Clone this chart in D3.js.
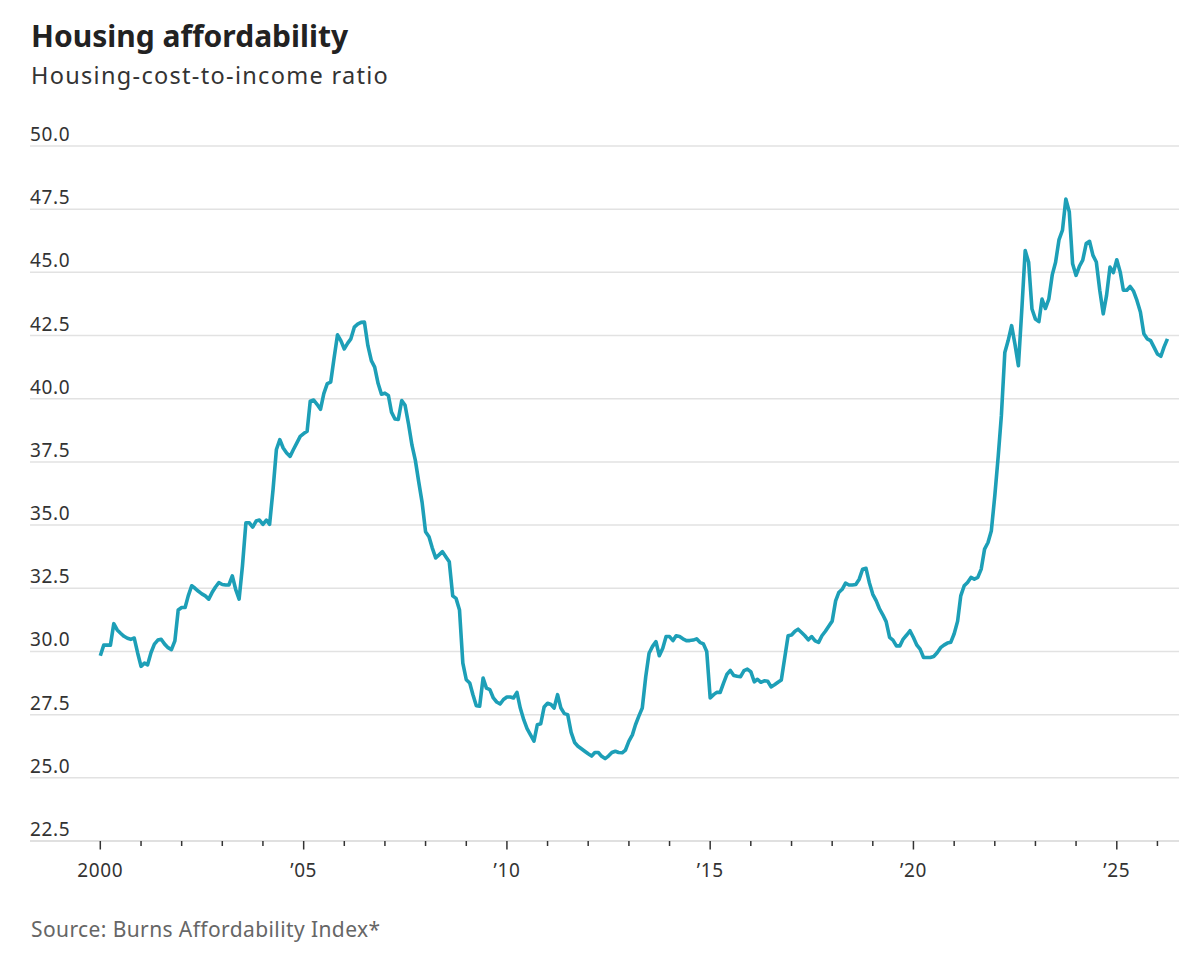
<!DOCTYPE html>
<html lang="en">
  <head>
    <meta charset="UTF-8" />
    <script src="https://d3js.org/d3.v7.min.js"></script>
    <style>
      body { margin: 0; background: #fff; }
      text { font-family: "Noto Sans", Lato, sans-serif; }
    </style>
    <title>Housing affordability</title>
  </head>
  <body>
    <svg id="chart" width="1200" height="961"></svg>
    <script>
      // monthly housing-cost-to-income ratio, starting Jan 2000
      const startYear = 2000;
      const ratio2000s = [
        29.83, 30.25, 30.25, 30.25, 31.1, 30.85, 30.72, 30.6, 30.52, 30.48, 30.53, 29.95,
        29.41, 29.54, 29.47, 29.96, 30.29, 30.45, 30.48, 30.29, 30.15, 30.07, 30.42, 31.64,
        31.74, 31.74, 32.2, 32.6, 32.5, 32.38, 32.28, 32.2, 32.07, 32.33, 32.55, 32.72,
        32.65, 32.63, 32.63, 32.99, 32.46, 32.07, 33.38, 35.09, 35.09, 34.92, 35.16, 35.2,
        35.03, 35.2, 35.03, 36.41, 37.99, 38.38, 38.05, 37.85, 37.72, 37.99, 38.25, 38.51,
        38.62, 38.71, 39.9, 39.95, 39.78, 39.58, 40.2, 40.6, 40.66, 41.6, 42.53, 42.3,
        41.97, 42.2, 42.37, 42.83, 42.95, 43.02, 43.03, 42.1, 41.51, 41.25, 40.6, 40.18,
        40.22, 40.13, 39.47, 39.2, 39.18, 39.93, 39.74, 39.0, 38.16, 37.57, 36.7, 35.9,
        34.74, 34.54, 34.1, 33.7, 33.82, 33.95, 33.75, 33.55, 32.2, 32.1, 31.64, 29.54,
        28.88, 28.75, 28.3, 27.85, 27.83, 28.95, 28.55, 28.49, 28.16, 28.0, 27.92, 28.1
      ];
      const ratio2010s = [
        28.2, 28.2, 28.16, 28.38, 27.76, 27.3, 26.95, 26.7, 26.45, 27.1, 27.14, 27.8,
        27.95, 27.9, 27.76, 28.29, 27.76, 27.54, 27.5, 26.8, 26.4, 26.25, 26.15, 26.05,
        25.95, 25.86, 26.0, 26.0, 25.85, 25.76, 25.86, 26.0, 26.05, 26.0, 25.99, 26.1,
        26.45, 26.7, 27.1, 27.45, 27.76, 29.0, 29.93, 30.2, 30.39, 29.83, 30.13, 30.59,
        30.59, 30.43, 30.62, 30.59, 30.5, 30.43, 30.43, 30.45, 30.5, 30.36, 30.3, 30.0,
        28.16, 28.29, 28.38, 28.38, 28.75, 29.1, 29.25, 29.05, 29.02, 29.0, 29.24, 29.3,
        29.2, 28.8, 28.9, 28.78, 28.84, 28.82, 28.6, 28.68, 28.78, 28.87, 29.76, 30.62,
        30.65, 30.8, 30.88, 30.75, 30.62, 30.46, 30.59, 30.42, 30.36, 30.62, 30.8, 31.0,
        31.2, 32.0, 32.33, 32.46, 32.7, 32.63, 32.63, 32.65, 32.86, 33.25, 33.29, 32.72,
        32.26, 32.0, 31.7, 31.45, 31.18, 30.56, 30.45, 30.22, 30.22, 30.49, 30.65, 30.82
      ];
      const ratio2020s = [
        30.55, 30.25, 30.09, 29.76, 29.76, 29.76, 29.8, 29.95, 30.15, 30.25, 30.33, 30.36,
        30.7, 31.2, 32.2, 32.6, 32.73, 32.93, 32.86, 32.93, 33.26, 34.05, 34.31, 34.78,
        36.16, 37.74, 39.33, 41.83, 42.3, 42.89, 42.16, 41.31, 43.55, 45.86, 45.4, 43.55,
        43.15, 43.05, 43.94, 43.57, 43.94, 44.9, 45.4, 46.3, 46.67, 47.9, 47.4, 45.34,
        44.88, 45.25, 45.48, 46.14, 46.23, 45.67, 45.41, 44.29, 43.36, 44.09, 45.21, 44.99,
        45.5, 45.01, 44.29, 44.29, 44.44, 44.25, 43.89, 43.43, 42.57, 42.37, 42.3, 42.04,
        41.77, 41.68, 42.04, 42.37
      ];
      const yTicks = [22.5, 25.0, 27.5, 30.0, 32.5, 35.0, 37.5, 40.0, 42.5, 45.0, 47.5, 50.0];
      const xTickYears = d3.range(2000, 2027);
      const xLabelYears = [2000, 2005, 2010, 2015, 2020, 2025];
      const xLabels = ["2000", "\u201905", "\u201910", "\u201915", "\u201920", "\u201925"];

      const ratios = ratio2000s.concat(ratio2010s, ratio2020s);
      const data = ratios.map((v, i) => ({
        date: new Date(startYear, i, 1),
        value: v,
      }));

      // set up graph
      const svg = d3.select("#chart");
      const left = 30;
      const right = 1179;

      const x = d3
        .scaleTime()
        .domain([new Date(2000, 0, 1), new Date(2025, 0, 1)])
        .range([100.3, 1116.8]);
      const y = d3.scaleLinear().domain([22.5, 50]).range([841, 146]);

      // titles
      svg
        .append("text")
        .attr("x", 31)
        .attr("y", 47)
        .attr("fill", "#222")
        .style("font-size", "30px")
        .style("font-weight", 700)
        .text("Housing affordability");

      svg
        .append("text")
        .attr("x", 31)
        .attr("y", 84)
        .attr("fill", "#333")
        .style("font-size", "23.5px")
        .style("letter-spacing", "1.3px")
        .text("Housing-cost-to-income ratio");

      // gridlines + y labels
      const grid = svg.append("g").attr("id", "grid");
      grid
        .selectAll("line")
        .data(yTicks)
        .join("line")
        .attr("x1", left)
        .attr("x2", right)
        .attr("y1", (d) => y(d))
        .attr("y2", (d) => y(d))
        .attr("stroke", (d) => (d === 22.5 ? "#d6d6d6" : "#e2e2e2"))
        .attr("stroke-width", 1.5);

      grid
        .selectAll("text")
        .data(yTicks)
        .join("text")
        .attr("x", left)
        .attr("y", (d) => y(d) - 5)
        .attr("fill", "#333")
        .style("font-size", "19px")
        .style("letter-spacing", "0.6px")
        .text((d) => d.toFixed(1));

      // x ticks
      const xAxis = svg.append("g").attr("id", "xaxis");
      xAxis
        .selectAll("line")
        .data(xTickYears)
        .join("line")
        .attr("x1", (d) => x(new Date(d, 0, 1)))
        .attr("x2", (d) => x(new Date(d, 0, 1)))
        .attr("y1", y(22.5))
        .attr("y2", (d) => y(22.5) + (d % 5 === 0 ? 8.5 : 5))
        .attr("stroke", "#333")
        .attr("stroke-width", 1.5);

      xAxis
        .selectAll("text")
        .data(xLabelYears)
        .join("text")
        .attr("x", (d) => x(new Date(d, 0, 1)))
        .attr("y", 877)
        .attr("text-anchor", "middle")
        .attr("fill", "#333")
        .style("font-size", "19px")
        .style("letter-spacing", "0.6px")
        .text((d, i) => xLabels[i]);

      // the line
      const line = d3
        .line()
        .x((d) => x(d.date))
        .y((d) => y(d.value));

      svg
        .append("path")
        .datum(data)
        .attr("d", line)
        .attr("fill", "none")
        .attr("stroke", "#1d9fb7")
        .attr("stroke-width", 3.6)
        .attr("stroke-linejoin", "round");

      // source note
      svg
        .append("text")
        .attr("x", 31)
        .attr("y", 937)
        .attr("fill", "#666")
        .style("font-size", "21px")
        .style("letter-spacing", "0.4px")
        .text("Source: Burns Affordability Index*");
    </script>
  </body>
</html>
